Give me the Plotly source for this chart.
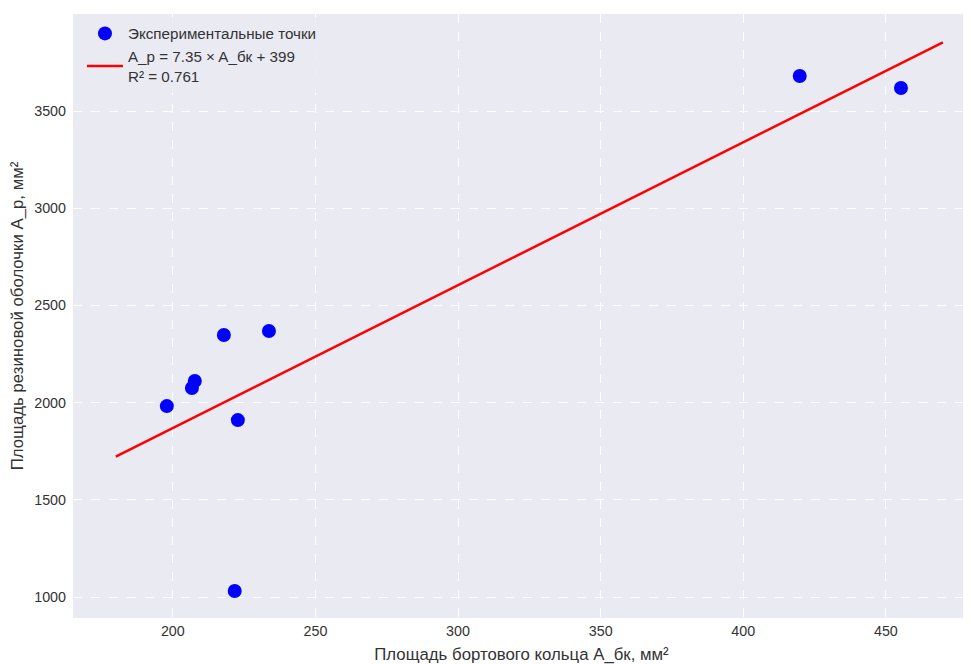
import plotly.graph_objects as go

# Data
x_points = [197.9, 206.7, 207.7, 217.9, 233.7, 222.8, 221.7, 419.8, 455.3]
y_points = [1982, 2075, 2111, 2348, 2368, 1910, 1031, 3680, 3618]

slope = 7.35
intercept = 399
r2 = 0.761
line_x = [180, 470]
line_y = [slope * v + intercept for v in line_x]

x_ticks = [200, 250, 300, 350, 400, 450]
y_ticks = [1000, 1500, 2000, 2500, 3000, 3500]

fig = go.Figure()
fig.add_trace(go.Scatter(
    x=x_points, y=y_points, mode="markers",
    marker=dict(color="#0000FF", size=14),
    name="Экспериментальные точки",
))
fig.add_trace(go.Scatter(
    x=line_x, y=line_y, mode="lines",
    line=dict(color="#FF0000", width=2.5),
    name=f"A_p = {slope} × A_бк + {intercept}<br>R² = {r2}",
))

font_family = "Liberation Sans, Arial, sans-serif"
fig.update_layout(
    width=963, height=656,
    margin=dict(l=65, r=1, t=6, b=46, autoexpand=False),
    paper_bgcolor="white",
    plot_bgcolor="#EAEAF2",
    font=dict(family=font_family, size=13, color="#333333"),
    showlegend=True,
    legend=dict(x=0.01, y=0.995, xanchor="left", yanchor="top",
                bgcolor="rgba(234,234,242,0.8)", font=dict(size=15.2, color="#333333"),
                itemwidth=36, tracegroupgap=1),
    xaxis=dict(
        range=[165, 479.5], tickvals=x_ticks, automargin=False,
        showgrid=True, gridcolor="white", griddash="dash", gridwidth=1,
        zeroline=False, showline=False, ticks="", ticklabelstandoff=3,
        title=dict(text="Площадь бортового кольца A_бк, мм²", font=dict(size=16.8, color="#333333")),
        tickfont=dict(size=14.3),
    ),
    yaxis=dict(
        range=[892, 3999], tickvals=y_ticks, automargin=False,
        showgrid=True, gridcolor="white", griddash="dash", gridwidth=1,
        zeroline=False, showline=False, ticks="", ticklabelstandoff=6,
        title=dict(text="Площадь резиновой оболочки A_p, мм²", font=dict(size=16.8, color="#333333")),
        tickfont=dict(size=14.3),
    ),
)

fig.write_html("out.html")
